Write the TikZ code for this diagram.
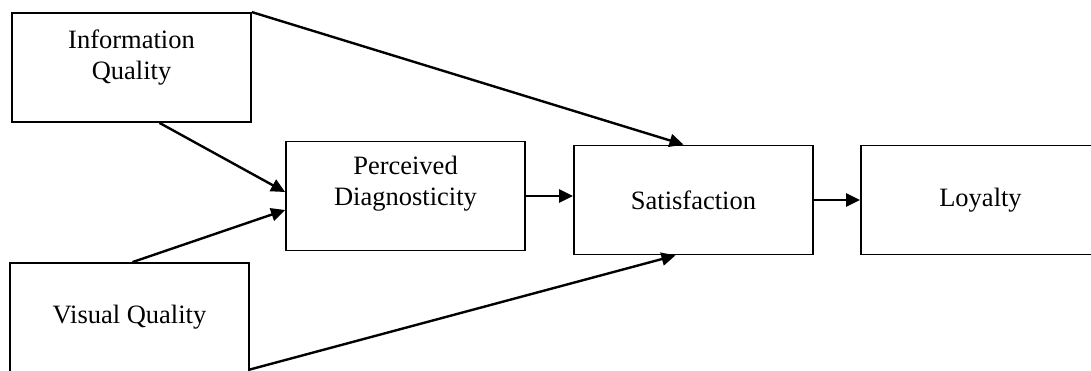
\documentclass[tikz,border=0pt]{standalone}
\usepackage{fontspec}
\setmainfont{Liberation Serif}
\usetikzlibrary{arrows.meta}
\begin{document}
\begin{tikzpicture}[x=1pt,y=-1pt,
  box/.style={draw,line width=1.8pt,minimum width=239pt,minimum height=109pt,align=center,font=\fontsize{26.5}{31}\selectfont},
  lift/.style={text depth=#1},
  link/.style={line width=2.4pt,-{Triangle[length=14pt,width=13pt]}}]
  \useasboundingbox (0,0) rectangle (1091,370);
  \node[box,lift=26pt] (info) at (131.5,67.5) {Information\\Quality};
  \node[box] (vis) at (129.5,317.5) {Visual Quality};
  \node[box,lift=30pt] (perc) at (405.5,196) {Perceived\\Diagnosticity};
  \node[box] (sat) at (693.5,200) {Satisfaction};
  \node[box] (loy) at (980.5,200) {Loyalty};
  \draw[link] (info.north east) -- ([xshift=-10pt]sat.north);
  \draw[link] ([xshift=28pt]info.south) -- ([yshift=4pt]perc.west);
  \draw[link] ([xshift=3pt]vis.north) -- ([yshift=-14pt]perc.west);
  \draw[link] ([yshift=-52pt]vis.east) -- ([xshift=-18pt]sat.south);
  \draw[link] (perc.east) -- (perc.east -| sat.west);
  \draw[link] (sat.east) -- (loy.west);
\end{tikzpicture}
\end{document}
